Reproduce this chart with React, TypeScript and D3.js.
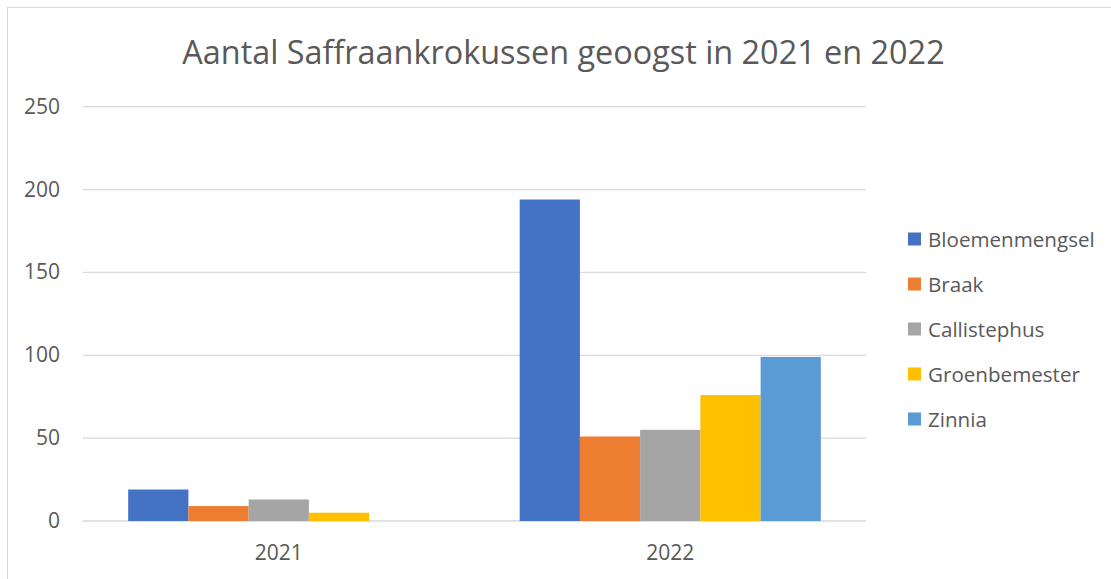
import React from "react";
import * as d3 from "d3";

const categories = ["2021", "2022"];
const seriesNames = ["Bloemenmengsel", "Braak", "Callistephus", "Groenbemester", "Zinnia"];
const seriesColors = ["#4472C4", "#ED7D31", "#A5A5A5", "#FFC000", "#5B9BD5"];
const bloemenmengsel = [19, 194];
const braak = [9, 51];
const callistephus = [13, 55];
const groenbemester = [5, 76];
const zinnia = [0, 99];
const yTicks = [0, 50, 100, 150, 200, 250];
const title = "Aantal Saffraankrokussen geoogst in 2021 en 2022";

const seriesValues = [bloemenmengsel, braak, callistephus, groenbemester, zinnia];

export default function App() {
  const W = 1111, H = 579;
  const left = 83, right = 866, top = 106.7, bottom = 521;
  const font = "'Open Sans', sans-serif";
  const x = d3.scaleBand<string>().domain(categories).range([left, right]).paddingInner(0).paddingOuter(0);
  const y = d3.scaleLinear().domain([0, 250]).range([bottom, top]);
  const bw = x.bandwidth();
  const groupW = (bw * 5) / 6.5;
  const inner = d3.scaleBand<string>().domain(seriesNames).range([(bw - groupW) / 2, (bw + groupW) / 2]);
  const textColor = "#595959";
  return (
    <svg width={W} height={H} style={{ position: "absolute", left: 0, top: 0 }}>
      <rect x={0} y={0} width={W} height={H} fill="#fff" />
      <rect x={7.5} y={7.5} width={W + 10} height={H + 10} fill="none" stroke="#d9d9d9" strokeWidth={1} />
      <text x={(183 + 944) / 2} y={64} textAnchor="middle" fontFamily={font} fontSize={32.4} fill={textColor}>{title}</text>
      {yTicks.map((t) => (
        <g key={t}>
          <line x1={left} x2={right} y1={y(t)} y2={y(t)} stroke="#d9d9d9" strokeWidth={1.3} />
          <text x={60} y={y(t) + 7} textAnchor="end" fontFamily={font} fontSize={21} fill={textColor}>{t}</text>
        </g>
      ))}
      {categories.map((c, ci) => (
        <g key={c}>
          {seriesNames.map((s, si) => {
            const v = seriesValues[si][ci];
            return (
              <rect key={s} x={(x(c) as number) + (inner(s) as number)} y={y(v)} width={inner.bandwidth()} height={bottom - y(v)} fill={seriesColors[si]} />
            );
          })}
          <text x={(x(c) as number) + bw / 2} y={560} textAnchor="middle" fontFamily={font} fontSize={21} fill={textColor}>{c}</text>
        </g>
      ))}
      {seriesNames.map((s, si) => (
        <g key={s} transform={`translate(908, ${239 + si * 45})`}>
          <rect x={0} y={-6.5} width={13} height={13} fill={seriesColors[si]} />
          <text x={20} y={7.5} fontFamily={font} fontSize={20.6} fill={textColor}>{s}</text>
        </g>
      ))}
    </svg>
  );
}
